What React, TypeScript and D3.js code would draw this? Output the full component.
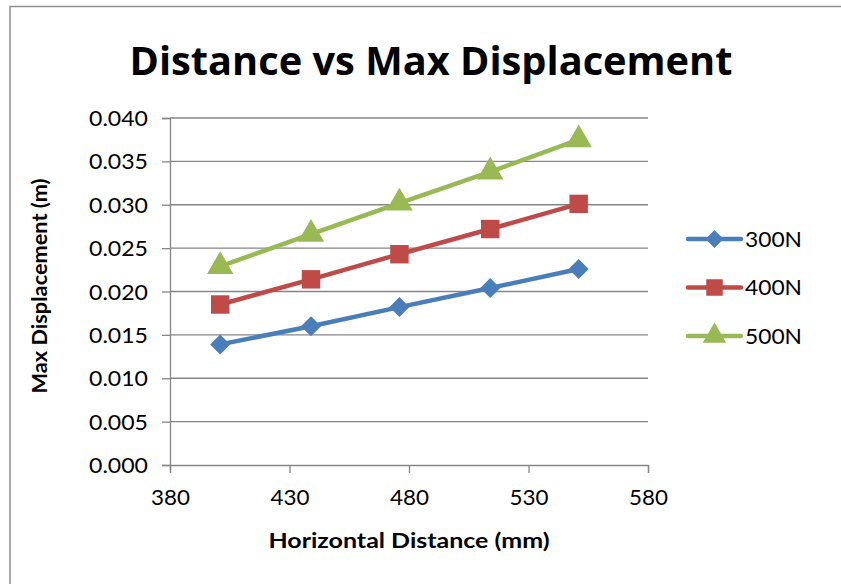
import React, { useEffect, useRef } from 'react';
import * as d3 from 'd3';

const distances = [401, 439, 476, 514, 551];
const seriesNames = ['300N', '400N', '500N'];
const disp300 = [0.0139, 0.016, 0.0182, 0.0204, 0.0226];
const disp400 = [0.0185, 0.0214, 0.0243, 0.0272, 0.0301];
const disp500 = [0.0229, 0.0266, 0.0302, 0.0338, 0.0375];
const xTicks = [380, 430, 480, 530, 580];
const yTicks = [0, 0.005, 0.01, 0.015, 0.02, 0.025, 0.03, 0.035, 0.04];

const colors = ['#4a7ebb', '#be4b48', '#98b954'];
// diamond = square turned 45 degrees, like Excel's marker
const symbols = [d3.symbolSquare, d3.symbolSquare, d3.symbolTriangle];
const rotations = [45, 0, 0];
const markerSize = [200, 340, 300];

const App: React.FC = () => {
  const svgRef = useRef<SVGSVGElement>(null);

  useEffect(() => {
    if (!svgRef.current) return;
    const svg = d3.select(svgRef.current);
    svg.selectAll('*').remove();

    const width = 841;
    const height = 584;
    const plot = { left: 170, right: 648, top: 118, bottom: 465 };
    const font = 'Lato, "Open Sans", sans-serif';
    const grid = '#868686';

    const x = d3.scaleLinear().domain([380, 580]).range([plot.left, plot.right]);
    const y = d3.scaleLinear().domain([0, 0.04]).range([plot.bottom, plot.top]);

    svg.append('rect').attr('width', width).attr('height', height).attr('fill', '#fff');
    // outer chart border (runs off the picture to the right and bottom)
    svg.append('rect')
      .attr('x', 10).attr('y', 6.5).attr('width', 1000).attr('height', 1000)
      .attr('fill', 'none').attr('stroke', '#8e8e8e').attr('stroke-width', 1.5);

    // title
    svg.append('text')
      .attr('x', 431).attr('y', 75)
      .attr('text-anchor', 'middle')
      .attr('font-family', '"Open Sans", sans-serif')
      .attr('font-weight', 700)
      .attr('font-size', 40)
      .attr('textLength', 603)
      .attr('lengthAdjust', 'spacingAndGlyphs')
      .text('Distance vs Max Displacement');

    // gridlines
    svg.selectAll('.grid')
      .data(yTicks.slice(1))
      .enter().append('line')
      .attr('x1', plot.left).attr('x2', plot.right)
      .attr('y1', d => y(d)).attr('y2', d => y(d))
      .attr('stroke', grid).attr('stroke-width', 1.3);

    // y axis
    const yAxis = svg.append('g').attr('transform', `translate(${plot.left},0)`)
      .call(d3.axisLeft(y).tickValues(yTicks).tickSize(8).tickPadding(14).tickFormat(d3.format('.3f')));
    yAxis.select('.domain').attr('stroke', grid).attr('stroke-width', 1.3);
    yAxis.selectAll('.tick line').attr('stroke', grid).attr('stroke-width', 1.3);
    yAxis.selectAll('.tick text')
      .attr('font-family', font).attr('font-size', 21).attr('fill', '#000')
      .attr('textLength', 59).attr('lengthAdjust', 'spacingAndGlyphs')
      .attr('dy', '0.36em');

    // x axis
    const xAxis = svg.append('g').attr('transform', `translate(0,${plot.bottom})`)
      .call(d3.axisBottom(x).tickValues(xTicks).tickSize(8).tickPadding(16).tickFormat(d3.format('d')));
    xAxis.select('.domain').attr('stroke', grid).attr('stroke-width', 1.3);
    xAxis.selectAll('.tick line').attr('stroke', grid).attr('stroke-width', 1.3);
    xAxis.selectAll('.tick text')
      .attr('font-family', font).attr('font-size', 22).attr('fill', '#000')
      .attr('textLength', 39).attr('lengthAdjust', 'spacingAndGlyphs');

    // axis titles
    svg.append('text')
      .attr('x', 409).attr('y', 548)
      .attr('text-anchor', 'middle')
      .attr('font-family', font).attr('font-weight', 700).attr('font-size', 21)
      .attr('textLength', 281).attr('lengthAdjust', 'spacingAndGlyphs')
      .text('Horizontal Distance (mm)');
    svg.append('text')
      .attr('transform', 'translate(47,286) rotate(-90)')
      .attr('text-anchor', 'middle')
      .attr('font-family', font).attr('font-weight', 700).attr('font-size', 21)
      .attr('textLength', 215).attr('lengthAdjust', 'spacingAndGlyphs')
      .text('Max Displacement (m)');

    const allSeries = [disp300, disp400, disp500];
    const line = d3.line<number>().x((_, i) => x(distances[i])).y(d => y(d));

    allSeries.forEach((vals, s) => {
      svg.append('path')
        .datum(vals)
        .attr('d', line)
        .attr('fill', 'none')
        .attr('stroke', colors[s])
        .attr('stroke-width', 4.5)
        .attr('stroke-linejoin', 'round')
        .attr('stroke-linecap', 'round');
      svg.selectAll(`.m${s}`)
        .data(vals)
        .enter().append('path')
        .attr('transform', (d, i) => `translate(${x(distances[i])},${y(d)}) rotate(${rotations[s]})`)
        .attr('d', d3.symbol().type(symbols[s]).size(markerSize[s]))
        .attr('fill', colors[s]);
    });

    // legend
    const legend = svg.append('g');
    seriesNames.forEach((name, s) => {
      const ly = 239 + s * 48.5;
      legend.append('line')
        .attr('x1', 688).attr('x2', 741).attr('y1', ly).attr('y2', ly)
        .attr('stroke', colors[s]).attr('stroke-width', 4.5).attr('stroke-linecap', 'round');
      legend.append('path')
        .attr('transform', `translate(714.5,${ly}) rotate(${rotations[s]})`)
        .attr('d', d3.symbol().type(symbols[s]).size(markerSize[s] * 0.8))
        .attr('fill', colors[s]);
      legend.append('text')
        .attr('x', 745).attr('y', ly).attr('dy', '0.36em')
        .attr('font-family', font).attr('font-size', 21)
        .attr('textLength', 57).attr('lengthAdjust', 'spacingAndGlyphs')
        .text(name);
    });
  }, []);

  return (
    <svg
      ref={svgRef}
      width={841}
      height={584}
      viewBox="0 0 841 584"
      style={{ position: 'absolute', left: 0, top: 0, display: 'block' }}
    />
  );
};

export default App;
